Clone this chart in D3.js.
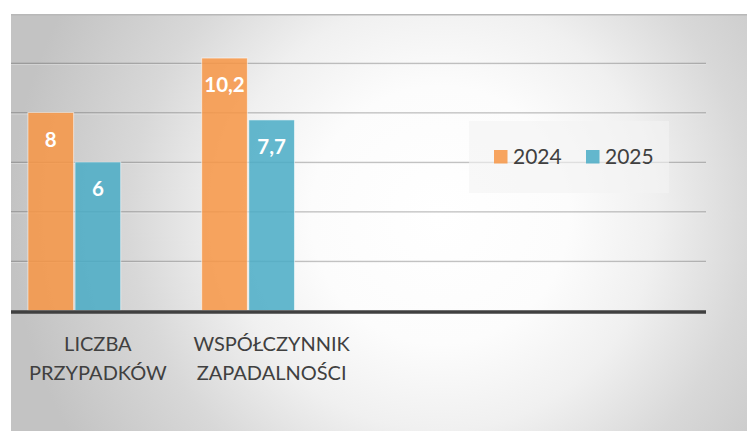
<!DOCTYPE html>
<html>
<head>
<meta charset="utf-8">
<script src="https://cdn.jsdelivr.net/npm/d3@7"></script>
<style>
  html, body { margin: 0; padding: 0; background: #ffffff; }
  svg { display: block; }
</style>
</head>
<body>
<div id="chart"></div>
<script>
// ---- data ----
const categories = [["LICZBA", "PRZYPADKÓW"], ["WSPÓŁCZYNNIK", "ZAPADALNOŚCI"]];
const categoryKeys = ["LICZBA PRZYPADKÓW", "WSPÓŁCZYNNIK ZAPADALNOŚCI"];
const seriesNames = ["2024", "2025"];
const values2024 = [8, 10.2];
const values2025 = [6, 7.7];
const valueLabels2024 = ["8", "10,2"];
const valueLabels2025 = ["6", "7,7"];
const yTicks = [2, 4, 6, 8, 10];
const colors = ["#F79646", "#4BACC6"];

const W = 747, H = 431;
const svg = d3.select("#chart").append("svg").attr("width", W).attr("height", H);
const defs = svg.append("defs");

// background radial gradient
const rg = defs.append("radialGradient")
  .attr("id", "bg").attr("gradientUnits", "userSpaceOnUse")
  .attr("cx", 440).attr("cy", 215).attr("r", 430);
rg.append("stop").attr("offset", 0).attr("stop-color", "#ffffff");
rg.append("stop").attr("offset", 0.3).attr("stop-color", "#fcfcfc");
rg.append("stop").attr("offset", 0.5).attr("stop-color", "#f0f0f0");
rg.append("stop").attr("offset", 0.72).attr("stop-color", "#d8d8d8");
rg.append("stop").attr("offset", 1).attr("stop-color", "#c3c3c3");

const bgX = 11, bgY = 14;
svg.append("rect").attr("x", bgX).attr("y", bgY).attr("width", W - bgX).attr("height", H - bgY)
  .attr("fill", "url(#bg)");
svg.append("line").attr("x1", bgX).attr("x2", W).attr("y1", bgY + 0.75).attr("y2", bgY + 0.75)
  .attr("stroke", "#b8b8b8").attr("stroke-width", 1.5);

// scales
const plotLeft = 11, plotRight = 706;
const slots = categoryKeys.concat(["_slot3", "_slot4"]);
const x = d3.scaleBand().domain(slots).range([plotLeft, plotRight])
  .paddingInner(0.195).paddingOuter(0.0975);
const seriesSlots = seriesNames.concat(["_empty"]);
const xs = d3.scaleBand().domain(seriesSlots).range([0, x.bandwidth()]).paddingInner(0.03);
const y = d3.scaleLinear().domain([0, 12]).range([310.5, 13.5]);

// gridlines via axis
const grid = svg.append("g").attr("transform", `translate(${plotLeft},0)`)
  .call(d3.axisLeft(y).tickValues(yTicks).tickSize(-(plotRight - plotLeft)).tickFormat(""));
grid.select(".domain").remove();
grid.selectAll(".tick line").attr("stroke", "rgba(0,0,0,0.26)").attr("stroke-width", 1.5);
// subtle emboss under gridlines
svg.append("g").selectAll("line").data(yTicks).join("line")
  .attr("x1", plotLeft).attr("x2", plotRight)
  .attr("y1", d => y(d) + 1.3).attr("y2", d => y(d) + 1.3)
  .attr("stroke", "rgba(255,255,255,0.5)").attr("stroke-width", 1);

// bars
const rows = categoryKeys.map((c, i) => ({
  cat: c,
  vals: [
    { s: seriesNames[0], v: values2024[i], lab: valueLabels2024[i], col: colors[0] },
    { s: seriesNames[1], v: values2025[i], lab: valueLabels2025[i], col: colors[1] }
  ]
}));

const groups = svg.append("g").selectAll("g").data(rows).join("g")
  .attr("transform", d => `translate(${x(d.cat)},0)`);
groups.selectAll("rect").data(d => d.vals).join("rect")
  .attr("x", d => xs(d.s)).attr("width", xs.bandwidth())
  .attr("y", d => y(d.v)).attr("height", d => y(0) - y(d.v))
  .attr("fill", d => d.col).attr("fill-opacity", 0.86)
  .attr("stroke", "rgba(255,255,255,0.55)").attr("stroke-width", 1);
groups.selectAll("text").data(d => d.vals).join("text")
  .attr("x", d => xs(d.s) + xs.bandwidth() / 2)
  .attr("y", d => y(d.v) + 34)
  .attr("text-anchor", "middle")
  .attr("font-family", "Lato, 'Open Sans', sans-serif")
  .attr("font-weight", "bold").attr("font-size", 20.5)
  .attr("fill", "#ffffff")
  .text(d => d.lab);

// x axis line
svg.append("line").attr("x1", plotLeft).attr("x2", plotRight)
  .attr("y1", y(0) + 1.5).attr("y2", y(0) + 1.5)
  .attr("stroke", "#404040").attr("stroke-width", 3.5);

// category labels
const catLab = svg.append("g").selectAll("text").data(categoryKeys).join("text")
  .attr("text-anchor", "middle")
  .attr("font-family", "Lato, 'Open Sans', sans-serif")
  .attr("font-size", 20).attr("fill", "#404040")
  .attr("transform", d => `translate(${x(d) + x.bandwidth() / 2},0)`);
catLab.each(function(d, i) {
  d3.select(this).selectAll("tspan").data(categories[i]).join("tspan")
    .attr("x", 0).attr("y", (t, j) => 351 + j * 28.5).text(t => t);
});

// legend
const lg = svg.append("g");
lg.append("rect").attr("x", 469).attr("y", 121).attr("width", 200).attr("height", 72)
  .attr("fill", "#f4f4f4").attr("fill-opacity", 0.6);
const legendX = d3.scaleOrdinal().domain(seriesNames).range([494, 586]);
const li = lg.selectAll("g.item").data(seriesNames).join("g").attr("class", "item")
  .attr("transform", d => `translate(${legendX(d)},150)`);
li.append("rect").attr("width", 13.5).attr("height", 13.5)
  .attr("fill", (d, i) => colors[i]).attr("fill-opacity", 0.86);
li.append("text").attr("x", 19).attr("y", 14.3)
  .attr("font-family", "Lato, 'Open Sans', sans-serif")
  .attr("font-size", 21).attr("fill", "#404040").text(d => d);
</script>
</body>
</html>
